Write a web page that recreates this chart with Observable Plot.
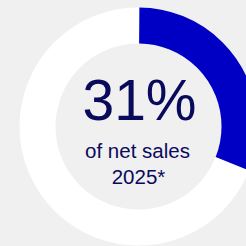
<!DOCTYPE html>
<html>
<head>
<meta charset="utf-8">
<script src="https://cdn.jsdelivr.net/npm/d3@7"></script>
<script src="https://cdn.jsdelivr.net/npm/@observablehq/plot@0.6"></script>
<style>
  html, body { margin: 0; padding: 0; background: #f0f0f0; overflow: hidden; }
  #chart svg { display: block; }
</style>
</head>
<body>
<div id="chart"></div>
<script>
// Data
const shareLabels = ["Share", "Rest"];
const shareValues = [31, 69];
const headline = ["31%"];
const subLines = ["of net sales", "2025*"];

const total = d3.sum(shareValues);
const rMid = 101;      // px, ring centre-line radius
const ringWidth = 36;  // px
const C = 2 * Math.PI * rMid;
const shareLen = shareValues[0] / total * C;

const center = [{x: 0, y: 0}];

const chart = Plot.plot({
  width: 246,
  height: 246,
  margin: 0,
  style: {background: "#f0f0f0", fontFamily: "'Liberation Sans', Arial, sans-serif"},
  x: {domain: [-1, 1], range: [19, 257], axis: null},
  y: {domain: [-1, 1], range: [245, 7], axis: null},
  marks: [
    // full white ring
    Plot.dot(center, {x: "x", y: "y", r: rMid, stroke: "#ffffff", strokeWidth: ringWidth, fill: "none"}),
    // blue share arc, starting at 12 o'clock, clockwise
    Plot.dot(center, {
      x: "x", y: "y", r: rMid, fill: "none",
      stroke: "#0000c4", strokeWidth: ringWidth,
      strokeDasharray: `${shareLen} ${C - shareLen}`,
      strokeDashoffset: C / 4
    }),
    Plot.text(headline, {x: () => 0, y: () => 0, text: d => d, fontSize: 57, fill: "#0a0a5c", dy: -24.5, dx: 1}),
    Plot.text([subLines[0]], {x: () => 0, y: () => 0, text: d => d, fontSize: 20.5, fill: "#0a0a5c", dy: 24.5, dx: -1}),
    Plot.text([subLines[1]], {x: () => 0, y: () => 0, text: d => d, fontSize: 20.5, fill: "#0a0a5c", dy: 50.5})
  ]
});
document.getElementById("chart").appendChild(chart);
</script>
</body>
</html>
